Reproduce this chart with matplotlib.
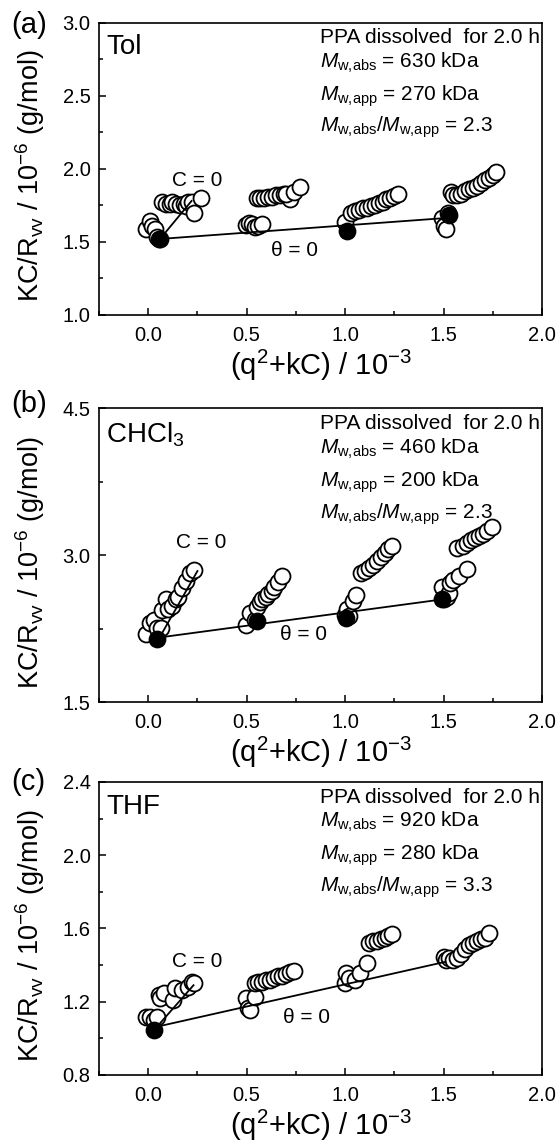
import matplotlib
matplotlib.use('Agg')
import matplotlib.pyplot as plt
from matplotlib.ticker import MultipleLocator, FormatStrFormatter

plt.rcParams['font.family'] = ['Liberation Sans', 'DejaVu Sans']
plt.rcParams['mathtext.fontset'] = 'custom'
plt.rcParams['mathtext.rm'] = 'Liberation Sans'
plt.rcParams['mathtext.it'] = 'Liberation Sans:italic'
plt.rcParams['mathtext.bf'] = 'Liberation Sans:bold'

# ---- panel (a): toluene ----
tol_open_x = [-0.013, 0.009, 0.018, 0.036, 0.045, 0.054,
              0.07, 0.09, 0.11, 0.12, 0.14, 0.16, 0.18, 0.19, 0.20, 0.22, 0.23, 0.27,
              0.497, 0.51, 0.525, 0.54, 0.555, 0.578,
              0.55, 0.57, 0.59, 0.61, 0.63, 0.65, 0.67, 0.69, 0.72, 0.70, 0.74, 0.77,
              1.0, 1.03, 1.05, 1.07, 1.09, 1.11, 1.13, 1.15, 1.17, 1.19, 1.21, 1.23, 1.25, 1.27,
              1.49, 1.50, 1.51, 1.52,
              1.54, 1.55, 1.57, 1.59, 1.61, 1.63, 1.65, 1.67, 1.69, 1.71, 1.73, 1.75, 1.765]
tol_open_y = [1.586, 1.643, 1.61, 1.59, 1.536, 1.518,
              1.77, 1.76, 1.76, 1.77, 1.76, 1.75, 1.76, 1.745, 1.77, 1.77, 1.70, 1.80,
              1.615, 1.63, 1.62, 1.605, 1.61, 1.62,
              1.80, 1.80, 1.80, 1.81, 1.81, 1.82, 1.82, 1.83, 1.79, 1.83, 1.84, 1.875,
              1.636, 1.70, 1.71, 1.72, 1.73, 1.735, 1.745, 1.755, 1.765, 1.775, 1.79, 1.80, 1.815, 1.83,
              1.665, 1.61, 1.59, 1.70,
              1.84, 1.82, 1.82, 1.83, 1.85, 1.86, 1.87, 1.88, 1.90, 1.92, 1.94, 1.96, 1.975]
tol_fill_x = [0.06, 1.01, 1.53]
tol_fill_y = [1.52, 1.575, 1.685]
tol_theta0_x = [0.06, 1.53]
tol_theta0_y = [1.52, 1.665]
tol_c0_x = [0.06, 0.22]
tol_c0_y = [1.52, 1.78]

# ---- panel (b): chloroform ----
chcl3_open_x = [-0.01, 0.01, 0.027, 0.045, 0.063,
                0.07, 0.09, 0.10, 0.12, 0.14, 0.15, 0.17, 0.19, 0.21, 0.23,
                0.497, 0.515, 0.542,
                0.55, 0.57, 0.58, 0.60, 0.61, 0.63, 0.64, 0.66, 0.68,
                1.0, 1.01, 1.02, 1.04, 1.057,
                1.08, 1.10, 1.12, 1.14, 1.16, 1.18, 1.20, 1.22, 1.24,
                1.49, 1.50, 1.515, 1.53, 1.535, 1.55, 1.58, 1.617,
                1.57, 1.60, 1.62, 1.64, 1.66, 1.68, 1.70, 1.72, 1.745]
chcl3_open_y = [2.20, 2.31, 2.34, 2.26, 2.26,
                2.44, 2.55, 2.45, 2.48, 2.55, 2.58, 2.67, 2.74, 2.82, 2.85,
                2.29, 2.41, 2.34,
                2.47, 2.52, 2.55, 2.58, 2.61, 2.64, 2.68, 2.73, 2.79,
                2.39, 2.45, 2.38, 2.53, 2.60,
                2.82, 2.84, 2.87, 2.90, 2.94, 2.98, 3.02, 3.06, 3.10,
                2.68, 2.55, 2.58, 2.62, 2.72, 2.75, 2.79, 2.86,
                3.07, 3.10, 3.13, 3.16, 3.18, 3.20, 3.22, 3.25, 3.29]
chcl3_fill_x = [0.045, 0.551, 1.003, 1.49]
chcl3_fill_y = [2.15, 2.33, 2.36, 2.55]
chcl3_theta0_x = [0.05, 1.51]
chcl3_theta0_y = [2.16, 2.555]
chcl3_c0_x = [0.06, 0.25]
chcl3_c0_y = [2.17, 2.84]

# ---- panel (c): THF ----
thf_open_x = [-0.013, 0.01, 0.03, 0.045,
              0.054, 0.06, 0.08, 0.126, 0.136, 0.17, 0.20, 0.22, 0.235,
              0.497, 0.506, 0.515, 0.54,
              0.54, 0.56, 0.58, 0.60, 0.62, 0.64, 0.66, 0.68, 0.70, 0.72, 0.74,
              1.0, 1.003, 1.02, 1.05, 1.075, 1.11,
              1.12, 1.14, 1.16, 1.18, 1.20, 1.22, 1.24,
              1.50, 1.51, 1.53,
              1.55, 1.57, 1.59, 1.61, 1.63, 1.65, 1.67, 1.69, 1.71, 1.73]
thf_open_y = [1.115, 1.118, 1.10, 1.118,
              1.236, 1.22, 1.245, 1.21, 1.273, 1.264, 1.28, 1.31, 1.30,
              1.218, 1.164, 1.155, 1.227,
              1.30, 1.31, 1.31, 1.32, 1.32, 1.33, 1.34, 1.34, 1.35, 1.36, 1.365,
              1.30, 1.355, 1.33, 1.32, 1.355, 1.41,
              1.52, 1.53, 1.53, 1.54, 1.55, 1.56, 1.57,
              1.445, 1.43, 1.436,
              1.43, 1.44, 1.46, 1.49, 1.51, 1.52, 1.53, 1.54, 1.55, 1.575]
thf_fill_x = [0.027]
thf_fill_y = [1.045]
thf_theta0_x = [0.03, 1.51]
thf_theta0_y = [1.06, 1.418]
thf_c0_x = [0.05, 0.23]
thf_c0_y = [1.07, 1.29]

solvents = ['Tol', 'CHCl$_3$', 'THF']
mw_abs = [630, 460, 920]
mw_app = [270, 200, 280]
mw_ratio = [2.3, 2.3, 3.3]
panel_tags = ['(a)', '(b)', '(c)']


def draw_panel(ax, ox, oy, fx, fy, tx, ty, cx, cy, ylim, ymajor, c0_pos, t0_pos, i):
    ax.plot(ox, oy, 'o', ms=11.5, mfc='white', mec='black', mew=1.3, zorder=2)
    ax.plot(fx, fy, 'o', ms=11.5, mfc='black', mec='black', mew=1.3, zorder=3)
    ax.plot(tx, ty, '-', color='black', lw=1.3, zorder=4)
    ax.plot(cx, cy, '-', color='black', lw=1.3, zorder=4)

    ax.set_xlim(-0.25, 2.0)
    ax.set_ylim(*ylim)
    ax.xaxis.set_major_locator(MultipleLocator(0.5))
    ax.xaxis.set_minor_locator(MultipleLocator(0.25))
    ax.yaxis.set_major_locator(MultipleLocator(ymajor))
    ax.yaxis.set_minor_locator(MultipleLocator(ymajor / 2))
    ax.xaxis.set_major_formatter(FormatStrFormatter('%.1f'))
    ax.yaxis.set_major_formatter(FormatStrFormatter('%.1f'))
    ax.tick_params(which='both', direction='in', top=False, right=False, width=1.1)
    ax.tick_params(which='major', length=5, labelsize=14.5, pad=6)
    ax.tick_params(which='minor', length=3)
    ax.tick_params(axis='x', which='major', pad=8)
    for s in ax.spines.values():
        s.set_linewidth(1.2)

    ax.set_xlabel(r'(q$^2$+kC) / 10$^{-3}$', fontsize=21, labelpad=2)
    ax.set_ylabel(r'KC/R$_{\rm vv}$ / 10$^{-6}$ (g/mol)', fontsize=19.5)
    ax.yaxis.set_label_coords(-0.118, 0.475)

    ax.text(0.016, 0.96, solvents[i], transform=ax.transAxes, fontsize=20, va='top', ha='left')
    lines = ['PPA dissolved  for 2.0 h',
             r'$M_{\rm w{,}abs}$ = %d kDa' % mw_abs[i],
             r'$M_{\rm w{,}app}$ = %d kDa' % mw_app[i],
             r'$M_{\rm w{,}abs}$/$M_{\rm w{,}app}$ = %.1f' % mw_ratio[i]]
    for txt, yy in zip(lines, [0.929, 0.847, 0.734, 0.626]):
        ax.text(0.499, yy, txt, transform=ax.transAxes, fontsize=15, va='baseline', ha='left')

    ax.text(c0_pos[0], c0_pos[1], 'C = 0', fontsize=15, ha='center', va='baseline')
    ax.text(t0_pos[0], t0_pos[1], '\u03b8 = 0', fontsize=15, ha='center', va='baseline')


def main():
    fig = plt.figure(figsize=(5.58, 11.42), dpi=100)
    left, width = 0.1774, 0.794
    ax_a = fig.add_axes([left, 0.7242, width, 0.256])
    ax_b = fig.add_axes([left, 0.385, width, 0.2574])
    ax_c = fig.add_axes([left, 0.0587, width, 0.2566])

    draw_panel(ax_a, tol_open_x, tol_open_y, tol_fill_x, tol_fill_y,
               tol_theta0_x, tol_theta0_y, tol_c0_x, tol_c0_y,
               (1.0, 3.0), 0.5, (0.25, 1.88), (0.745, 1.40), 0)
    draw_panel(ax_b, chcl3_open_x, chcl3_open_y, chcl3_fill_x, chcl3_fill_y,
               chcl3_theta0_x, chcl3_theta0_y, chcl3_c0_x, chcl3_c0_y,
               (1.5, 4.5), 1.5, (0.27, 3.076), (0.79, 2.138), 1)
    draw_panel(ax_c, thf_open_x, thf_open_y, thf_fill_x, thf_fill_y,
               thf_theta0_x, thf_theta0_y, thf_c0_x, thf_c0_y,
               (0.8, 2.4), 0.4, (0.247, 1.388), (0.805, 1.082), 2)

    # panel tags
    for tag, ytop in zip(panel_tags, [11, 390, 768]):
        fig.text(11 / 558, 1 - ytop / 1142, tag, fontsize=21, ha='left', va='top')

    fig.savefig('out.png', dpi=100)


if __name__ == "__main__":
    main()
